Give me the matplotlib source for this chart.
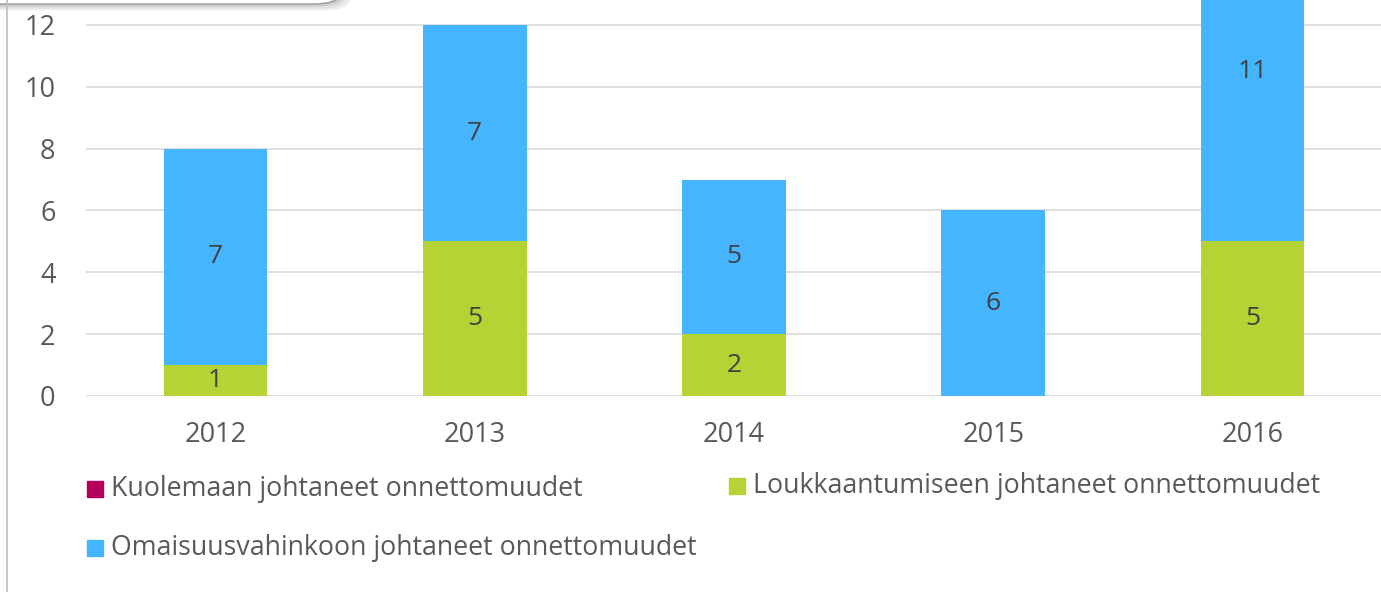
import numpy as np
import matplotlib.pyplot as plt
from matplotlib.patches import Rectangle, FancyBboxPatch
from matplotlib.lines import Line2D

years = ['2012', '2013', '2014', '2015', '2016']
kuolemaan = [0, 0, 0, 0, 0]
loukkaantumiseen = [1, 5, 2, 0, 5]
omaisuus = [7, 7, 5, 6, 11]

names = ['Kuolemaan johtaneet onnettomuudet',
         'Loukkaantumiseen johtaneet onnettomuudet',
         'Omaisuusvahinkoon johtaneet onnettomuudet']
colors = ['#B5005B', '#B5D334', '#45B5FF']

plt.rcParams['font.family'] = ['Open Sans', 'DejaVu Sans']

W, H = 1381, 592
fig = plt.figure(figsize=(W / 100, H / 100), dpi=100)
ax = fig.add_axes([86 / W, 1 - 396 / H, 1296 / W, 396 / H])

x = np.arange(len(years))
k = np.array(kuolemaan)
l = np.array(loukkaantumiseen)
o = np.array(omaisuus)

ax.bar(x, k, 0.4, color=colors[0], zorder=2)
ax.bar(x, l, 0.4, bottom=k, color=colors[1], zorder=2)
ax.bar(x, o, 0.4, bottom=k + l, color=colors[2], zorder=2)

# data labels at the true middle of each segment (also for the clipped bar)
for vals, base in [(l, k), (o, k + l)]:
    for xi, v, b in zip(x, vals, base):
        if v:
            ax.text(xi, b + v / 2, str(v), ha='center', va='center',
                    fontsize=19, color='#404040', zorder=3)

ax.set_xlim(-0.5, 4.5)
ax.set_ylim(0, 396 / 30.92)
ax.set_yticks(range(0, 13, 2))
ax.set_xticks(x)
ax.set_xticklabels(years)
ax.tick_params(length=0, labelsize=19.5, labelcolor='#595959')
ax.tick_params(axis='y', pad=22)
ax.tick_params(axis='x', pad=18)
ax.yaxis.grid(True, color='#D9D9D9', linewidth=1.2, zorder=0)
ax.set_axisbelow(True)
for s in ax.spines.values():
    s.set_visible(False)

# manual legend
leg_pos = [(87, 481), (729, 478), (87, 540)]
for (px, py), name, c in zip(leg_pos, names, colors):
    fig.patches.append(Rectangle((px / W, 1 - (py + 16) / H), 16 / W, 16 / H,
                                 transform=fig.transFigure, color=c))
    fig.text((px + 24) / W, 1 - (py + 8) / H, name, fontsize=19.3,
             color='#595959', va='center', ha='left')

# left frame line
fig.add_artist(Line2D([7 / W, 7 / W], [0, 1], color='#BFBFBF', linewidth=1.2))

# overlapping box at top-left
for i, a in enumerate([0.06, 0.1, 0.16, 0.24]):
    fig.patches.append(FancyBboxPatch((-40 / W, (H - 9 + 2 * i) / H), (390 - 2 * i) / W, 60 / H,
                                      boxstyle='round,pad=0,rounding_size=0.02',
                                      transform=fig.transFigure, facecolor='none',
                                      edgecolor=(0, 0, 0, a), linewidth=2))
fig.patches.append(FancyBboxPatch((-40 / W, (H - 4) / H), 380 / W, 60 / H,
                                  boxstyle='round,pad=0,rounding_size=0.02',
                                  transform=fig.transFigure, facecolor='white',
                                  edgecolor='#A0A0A0', linewidth=1))

fig.savefig('out.png', dpi=100)
